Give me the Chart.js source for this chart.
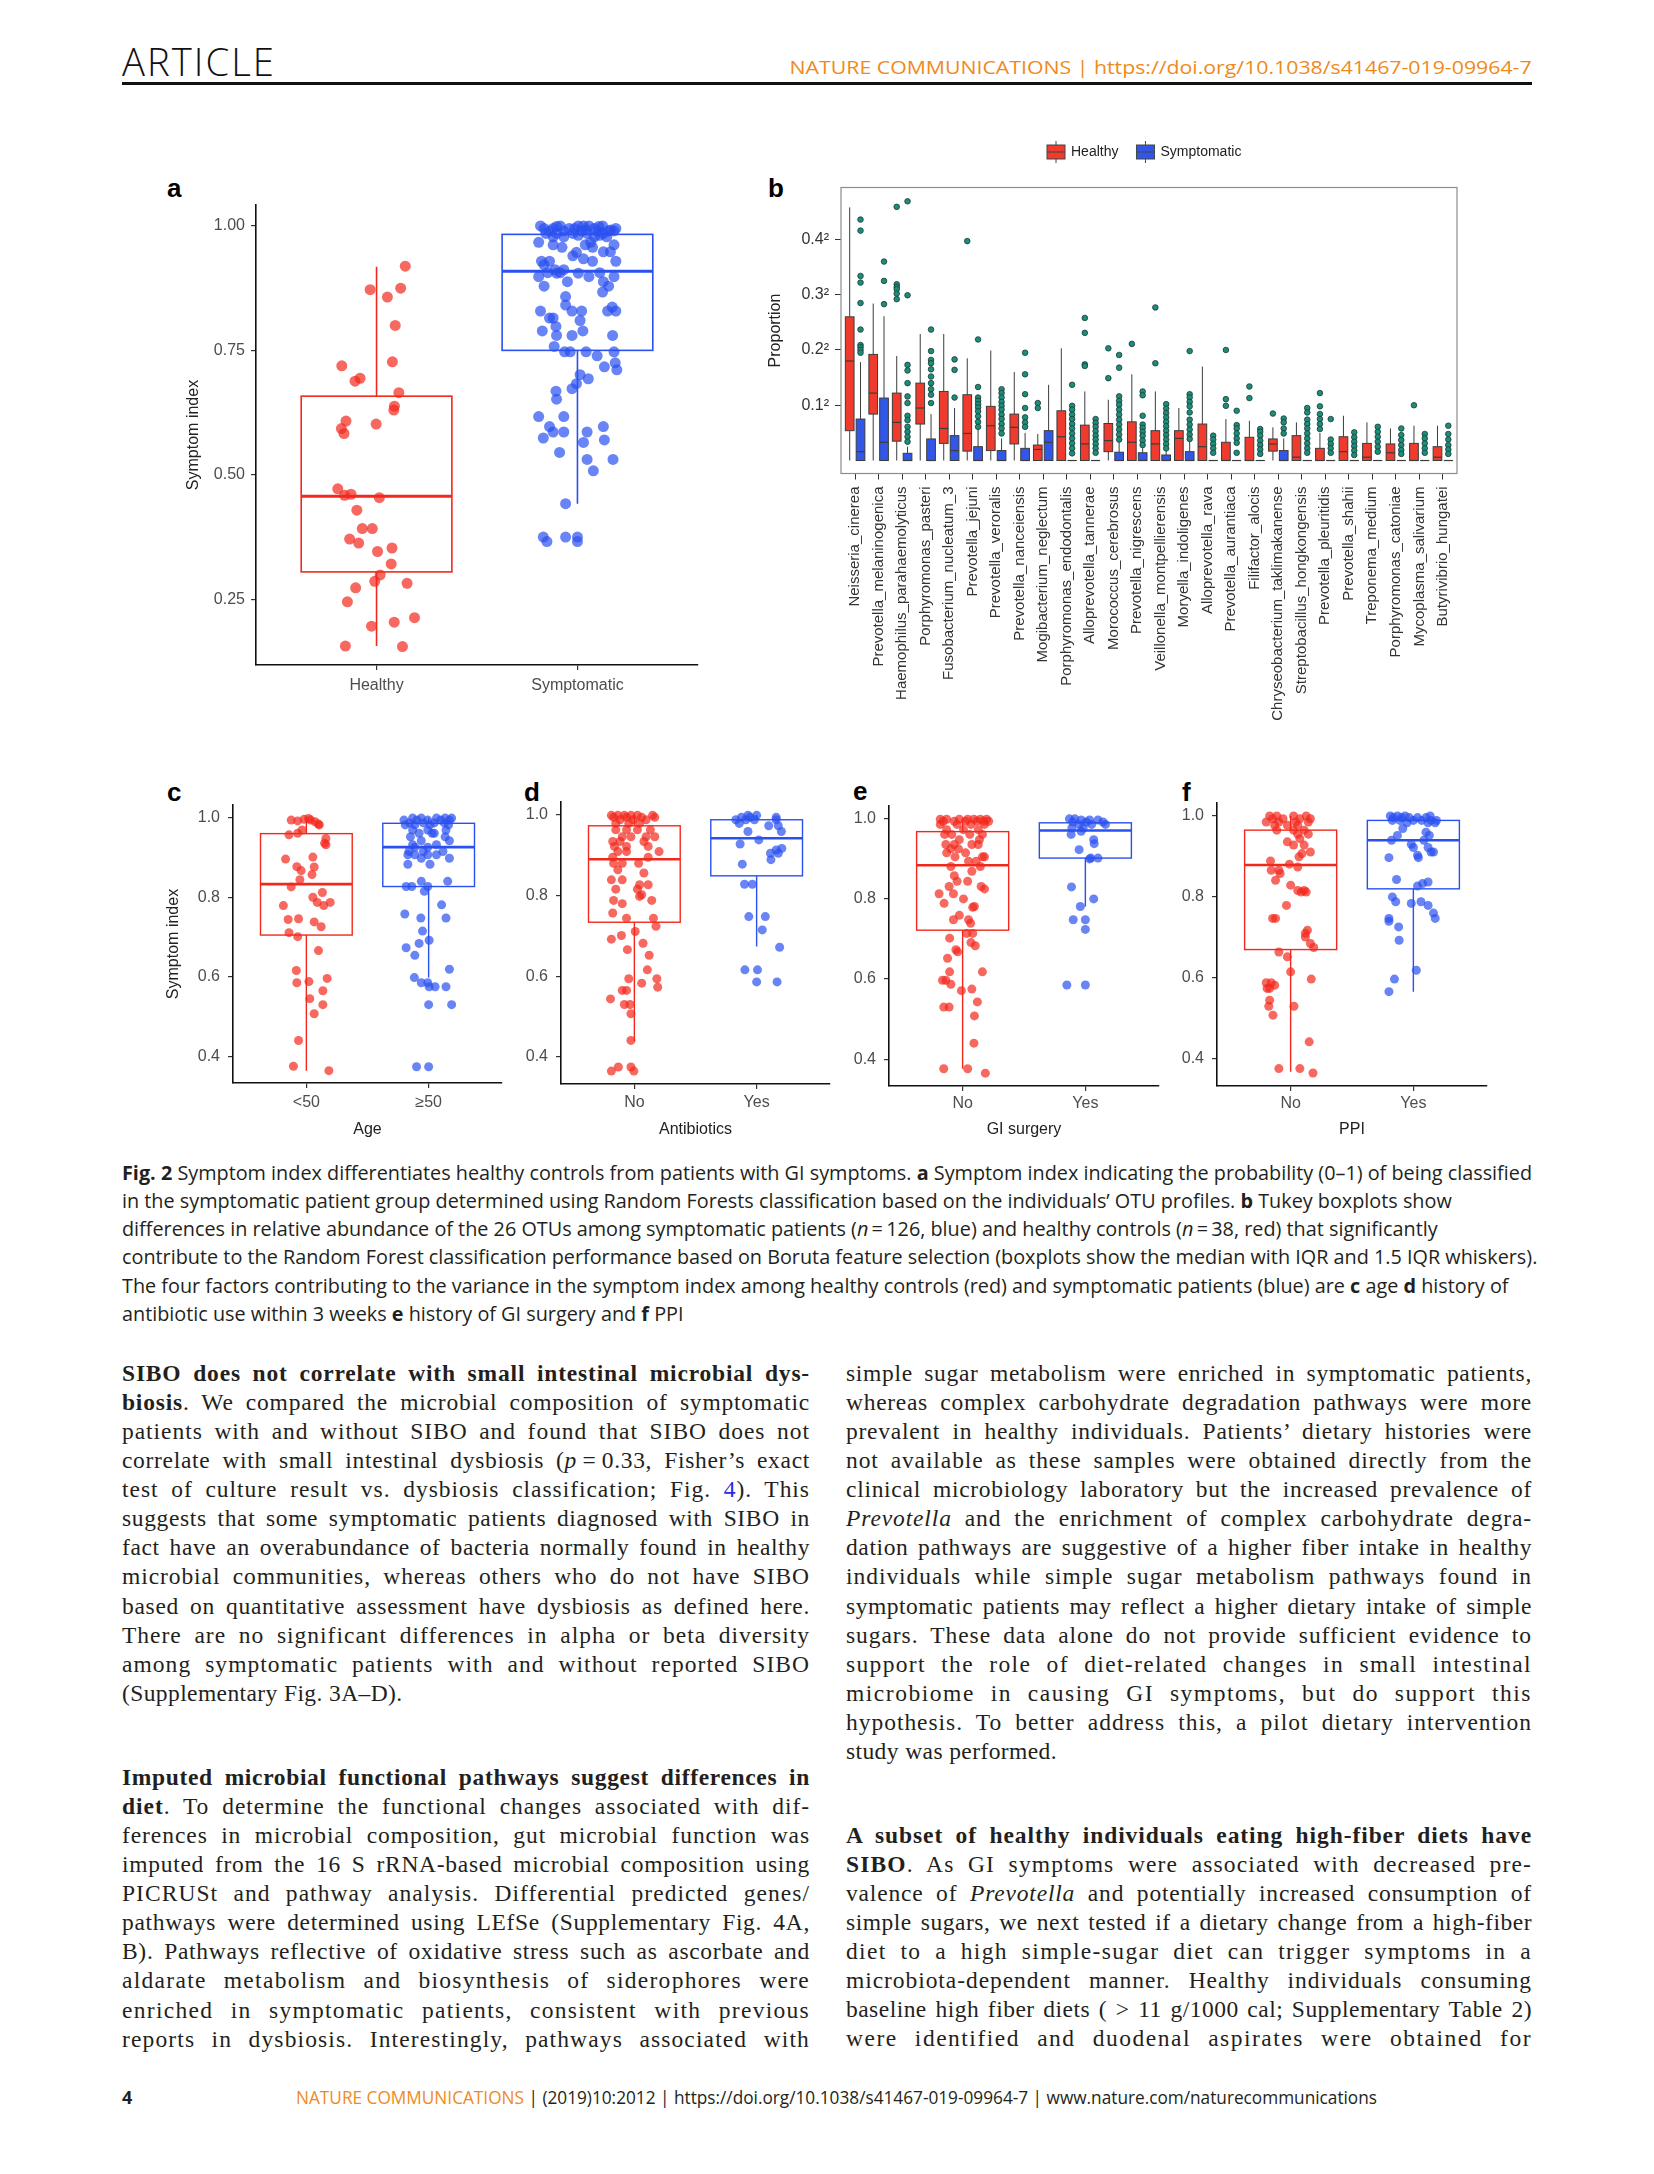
<!DOCTYPE html>
<html>
<head>
<meta charset="utf-8">
<title>Fig. 2</title>
<script src="https://cdn.jsdelivr.net/npm/chart.js@4.4.1/dist/chart.umd.min.js"></script>
<style>
  html, body { margin: 0; padding: 0; background: #fff; }
  body { position: relative; width: 1654px; height: 2174px; overflow: hidden; color: #231f20; }
  canvas { position: absolute; }
  .abs { position: absolute; white-space: nowrap; }
  .lbl { position: absolute; font: bold 26px/26px "Liberation Sans", Arial, sans-serif; color: #000; }
  #article { left: 122px; top: 42px; font: 300 38px/38px "Open Sans", sans-serif; letter-spacing: 2px; transform-origin: 0 0; color: #111; }
  #rule { position: absolute; left: 122px; top: 82px; width: 1410px; height: 2.5px; background: #111; }
  #hdr { right: 122px; top: 58px; font: 19px/19px "Open Sans", sans-serif; color: #ef8a1a; transform-origin: 100% 0; }
  #cap { position: absolute; left: 122px; top: 1158.5px; font: 19.5px/28.3px "Open Sans", sans-serif; transform-origin: 0 0; }
  #cap div { white-space: nowrap; }
  .p { position: absolute; font: 23.5px/29.07px "Liberation Serif", "Times New Roman", serif; }
  .p div { text-align: justify; text-align-last: justify; }
  .p div.end { text-align-last: left; }
  .lk { color: #2a2ae0; }
  #foot4 { left: 122px; top: 2088px; font: bold 18px/18px "Open Sans", sans-serif; }
  #foot { left: 296px; top: 2088px; font: 18px/18px "Open Sans", sans-serif; transform-origin: 0 0; }
  .or { color: #ef8a1a; }
</style>
</head>
<body>

<div id="article" class="abs">ARTICLE</div>
<div id="rule"></div>
<div id="hdr" class="abs">NATURE COMMUNICATIONS | https://doi.org/10.1038/s41467-019-09964-7</div>

<div class="lbl" style="left:167px;top:175px">a</div>
<div class="lbl" style="left:768px;top:175px">b</div>
<div class="lbl" style="left:167px;top:779px">c</div>
<div class="lbl" style="left:524px;top:779px">d</div>
<div class="lbl" style="left:853px;top:778px">e</div>
<div class="lbl" style="left:1182px;top:779px">f</div>

<canvas id="pa" width="560" height="540" style="left:150px;top:180px"></canvas>
<canvas id="pb" width="730" height="620" style="left:740px;top:130px"></canvas>
<canvas id="pc" width="360" height="380" style="left:150px;top:775px"></canvas>
<canvas id="pd" width="330" height="380" style="left:510px;top:775px"></canvas>
<canvas id="pe" width="330" height="380" style="left:840px;top:775px"></canvas>
<canvas id="pf" width="330" height="380" style="left:1170px;top:775px"></canvas>

<div id="cap">
  <div><span id="cap1"><b>Fig. 2</b> Symptom index differentiates healthy controls from patients with GI symptoms. <b>a</b> Symptom index indicating the probability (0–1) of being classified</span></div>
  <div>in the symptomatic patient group determined using Random Forests classification based on the individuals’ OTU profiles. <b>b</b> Tukey boxplots show</div>
  <div>differences in relative abundance of the 26 OTUs among symptomatic patients (<i>n</i>&thinsp;=&thinsp;126, blue) and healthy controls (<i>n</i>&thinsp;=&thinsp;38, red) that significantly</div>
  <div>contribute to the Random Forest classification performance based on Boruta feature selection (boxplots show the median with IQR and 1.5 IQR whiskers).</div>
  <div>The four factors contributing to the variance in the symptom index among healthy controls (red) and symptomatic patients (blue) are <b>c</b> age <b>d</b> history of</div>
  <div>antibiotic use within 3 weeks <b>e</b> history of GI surgery and <b>f</b> PPI</div>
</div>

<div class="p" style="left:122px;top:1359px;width:688px">
  <div><b>SIBO does not correlate with small intestinal microbial dys-</b></div>
  <div><b>biosis</b>. We compared the microbial composition of symptomatic</div>
  <div>patients with and without SIBO and found that SIBO does not</div>
  <div>correlate with small intestinal dysbiosis (<i>p</i>&thinsp;=&thinsp;0.33, Fisher’s exact</div>
  <div>test of culture result vs. dysbiosis classification; Fig. <span class="lk">4</span>). This</div>
  <div>suggests that some symptomatic patients diagnosed with SIBO in</div>
  <div>fact have an overabundance of bacteria normally found in healthy</div>
  <div>microbial communities, whereas others who do not have SIBO</div>
  <div>based on quantitative assessment have dysbiosis as defined here.</div>
  <div>There are no significant differences in alpha or beta diversity</div>
  <div>among symptomatic patients with and without reported SIBO</div>
  <div class="end">(Supplementary Fig. 3A–D).</div>
</div>

<div class="p" style="left:122px;top:1763px;width:688px">
  <div><b>Imputed microbial functional pathways suggest differences in</b></div>
  <div><b>diet</b>. To determine the functional changes associated with dif-</div>
  <div>ferences in microbial composition, gut microbial function was</div>
  <div>imputed from the 16 S rRNA-based microbial composition using</div>
  <div>PICRUSt and pathway analysis. Differential predicted genes/</div>
  <div>pathways were determined using LEfSe (Supplementary Fig. 4A,</div>
  <div>B). Pathways reflective of oxidative stress such as ascorbate and</div>
  <div>aldarate metabolism and biosynthesis of siderophores were</div>
  <div>enriched in symptomatic patients, consistent with previous</div>
  <div>reports in dysbiosis. Interestingly, pathways associated with</div>
</div>

<div class="p" style="left:846px;top:1359px;width:686px">
  <div>simple sugar metabolism were enriched in symptomatic patients,</div>
  <div>whereas complex carbohydrate degradation pathways were more</div>
  <div>prevalent in healthy individuals. Patients’ dietary histories were</div>
  <div>not available as these samples were obtained directly from the</div>
  <div>clinical microbiology laboratory but the increased prevalence of</div>
  <div><i>Prevotella</i> and the enrichment of complex carbohydrate degra-</div>
  <div>dation pathways are suggestive of a higher fiber intake in healthy</div>
  <div>individuals while simple sugar metabolism pathways found in</div>
  <div>symptomatic patients may reflect a higher dietary intake of simple</div>
  <div>sugars. These data alone do not provide sufficient evidence to</div>
  <div>support the role of diet-related changes in small intestinal</div>
  <div>microbiome in causing GI symptoms, but do support this</div>
  <div>hypothesis. To better address this, a pilot dietary intervention</div>
  <div class="end">study was performed.</div>
</div>

<div class="p" style="left:846px;top:1821px;width:686px">
  <div><b>A subset of healthy individuals eating high-fiber diets have</b></div>
  <div><b>SIBO</b>. As GI symptoms were associated with decreased pre-</div>
  <div>valence of <i>Prevotella</i> and potentially increased consumption of</div>
  <div>simple sugars, we next tested if a dietary change from a high-fiber</div>
  <div>diet to a high simple-sugar diet can trigger symptoms in a</div>
  <div>microbiota-dependent manner. Healthy individuals consuming</div>
  <div>baseline high fiber diets ( &gt; 11 g/1000 cal; Supplementary Table 2)</div>
  <div>were identified and duodenal aspirates were obtained for</div>
</div>

<div id="foot4" class="abs">4</div>
<div id="foot" class="abs"><span class="or">NATURE COMMUNICATIONS</span> | (2019)10:2012 | https://doi.org/10.1038/s41467-019-09964-7 | www.nature.com/naturecommunications</div>

<script>
Chart.defaults.font.family = '"Liberation Sans", Arial, Helvetica, sans-serif';
Chart.defaults.color = '#4d4d4d';

// ---------- a: symptom index, healthy vs symptomatic
const aGroups = ['Healthy', 'Symptomatic'];
const aTicks = [0.25, 0.5, 0.75, 1.0];
const aRange = [0.118, 1.042];
// [lower whisker, Q1, median, Q3, upper whisker]
const aHealthyBox = [0.156, 0.305, 0.457, 0.658, 0.918];
const aSymptBox = [0.442, 0.750, 0.909, 0.983, 1.0];
// [jitter, symptom index]
const aHealthyPts = [[.143,.919],[-.032,.872],[.120,.875],[.054,.857],[.093,.800],[-.173,.719],[.079,.727],[-.107,.688],[-.082,.694],[.111,.665],[.089,.638],[.086,.630],[-.152,.608],[-.002,.602],[-.175,.593],[-.162,.583],[-.193,.472],[-.159,.459],[-.127,.461],[.014,.454],[-.098,.429],[-.071,.392],[-.021,.392],[-.134,.371],[-.089,.363],[.077,.353],[.005,.346],[.073,.321],[.018,.299],[-.009,.286],[.152,.282],[-.104,.273],[-.145,.245],[.189,.213],[-.025,.196],[.088,.204],[-.155,.156],[.129,.155]];
const aSymptPts = [[-.184,1.0],[-.086,1.0],[.004,1.0],[.030,1.0],[.057,1.0],[.125,1.0],[-.104,.999],[.107,.999],
  [-.166,.995],[-.121,.995],[-.041,.995],[-.014,.995],[.084,.995],[.191,.995],[.043,.992],[.164,.992],
  [-.139,.990],[-.068,.990],[.021,.990],[.102,.990],[.155,.990],[.182,.990],[-.157,.985],[-.104,.985],[-.023,.985],[.048,.985],[.129,.985],
  [.004,.981],[.111,.981],[-.121,.978],[-.068,.978],[.084,.978],[.146,.978],[-.193,.967],[.066,.967],[-.121,.962],[.039,.962],[.182,.962],
  [-.077,.957],[.075,.957],[.129,.948],[.164,.948],[-.005,.947],[-.023,.940],[.030,.934],[-.179,.929],[-.139,.929],[.075,.929],[.191,.929],
  [-.166,.922],[-.112,.912],[-.068,.912],[-.148,.906],[-.086,.906],[.111,.906],[.004,.905],[-.104,.905],[-.193,.898],[.057,.898],[.182,.898],
  [-.050,.888],[.129,.888],[-.166,.879],[.155,.879],[.125,.867],[-.059,.858],[-.059,.841],[.173,.837],
  [-.184,.829],[-.027,.829],[.021,.829],[.150,.829],[.191,.829],[-.139,.815],[-.121,.815],[.013,.810],[-.107,.798],[-.175,.789],[.027,.789],
  [-.104,.780],[-.027,.780],[.175,.780],[-.116,.758],[-.064,.747],[-.036,.747],[.043,.747],[.182,.747],
  [.098,.739],[.188,.725],[.134,.717],[.196,.711],[.013,.701],[.054,.693],[-.005,.683],[-.027,.673],[-.107,.668],[-.104,.652],
  [-.193,.617],[-.068,.617],[-.139,.597],[.129,.597],[-.121,.586],[-.068,.586],[.048,.586],[-.170,.574],[.134,.570],[.030,.565],
  [-.089,.545],[.048,.531],[.177,.531],[.079,.508],[-.059,.442],[-.170,.375],[-.059,.375],[0,.375],[-.152,.366],[0,.366]];

// ---------- c-f: symptom index by factor
const cfTicks = [0.4, 0.6, 0.8, 1.0];
const cfRange = [0.333, 1.032];

const cGroups = ['<50', '≥50'];
const cYoungBox = [0.364, 0.705, 0.833, 0.960, 1.0];
const cOldBox = [0.598, 0.827, 0.926, 0.986, 1.0];
const cYoungPts = [[-.124,.994],[-.071,.992],[-.018,.996],[.018,.998],[.035,.994],[.071,.990],[.099,.984],[.106,.982],[-.035,.969],[-.142,.957],[-.071,.961],[.160,.948],[.149,.936],[.160,.932],[-.170,.896],[.053,.901],[-.078,.877],[-.043,.867],[.064,.876],[.046,.857],[-.053,.844],[-.124,.826],[.053,.800],[.131,.812],[.089,.787],[.142,.779],[-.188,.779],[.195,.787],[-.149,.744],[-.064,.746],[.064,.738],[.121,.726],[-.142,.711],[-.071,.701],[.099,.666],[-.082,.616],[.021,.588],[-.078,.585],[.170,.596],[.135,.565],[.028,.545],[.135,.530],[.064,.507],[-.064,.440],[-.106,.375],[.184,.364]];
const cOldPts = [[-.131,.999],[-.060,.999],[.064,.999],[.135,.999],[.188,.999],[-.202,.994],[-.096,.994],[-.007,.994],[.099,.994],[.170,.994],
  [-.156,.987],[-.043,.987],[.046,.987],[.128,.987],[-.191,.982],[-.113,.982],[.011,.982],[.163,.982],[-.131,.969],[-.007,.969],[.142,.969],
  [-.078,.961],[.028,.961],[.046,.961],[-.149,.952],[.135,.952],[-.060,.942],[.170,.942],[-.131,.932],[.064,.932],[-.007,.926],[-.113,.926],
  [-.160,.915],[-.043,.915],[.117,.915],[-.170,.907],[-.113,.907],[-.007,.907],[.064,.907],[-.060,.898],[.170,.898],[-.170,.883],[.011,.883],
  [-.060,.840],[.156,.840],[-.184,.827],[-.138,.827],[-.007,.827],[-.035,.815],[.106,.781],[-.195,.758],[-.064,.748],[.142,.748],[-.050,.715],
  [.004,.692],[-.078,.684],[-.184,.673],[-.113,.654],[.170,.619],[-.117,.598],[-.060,.585],[-.007,.585],[.004,.575],[.053,.575],[.142,.575],
  [0,.530],[.188,.530],[-.099,.374],[0,.374]];

const dGroups = ['No', 'Yes'];
const dNoBox = [0.439, 0.734, 0.890, 0.973, 1.0];
const dYesBox = [0.674, 0.849, 0.942, 0.988, 1.0];
const dNoPts = [[-.188,.999],[-.135,.999],[-.082,.999],[-.028,.999],[.025,.999],[.149,.999],[-.170,.994],[-.064,.994],[.060,.994],[.167,.994],
  [-.117,.988],[-.011,.988],[.096,.988],[-.152,.979],[-.046,.979],[.043,.979],[-.152,.963],[-.064,.963],[.025,.963],[.131,.963],
  [-.099,.946],[-.028,.946],[.096,.946],[.167,.946],[-.177,.934],[-.117,.934],[.078,.934],[-.163,.922],[-.064,.922],[.113,.922],
  [-.135,.909],[-.064,.909],[.202,.909],[-.177,.895],[.113,.895],[-.170,.880],[-.099,.880],[.035,.880],[-.135,.864],[.078,.856],
  [-.188,.839],[-.099,.839],[.043,.827],[.113,.827],[-.152,.816],[.025,.816],[.060,.802],[.043,.798],[-.170,.788],[.142,.788],
  [-.099,.780],[-.177,.757],[-.064,.744],[.156,.744],[.177,.724],[.007,.711],[-.106,.701],[-.188,.692],[.071,.682],[-.057,.666],
  [.121,.652],[.106,.616],[-.046,.594],[.184,.594],[.060,.583],[.191,.573],[-.099,.565],[-.064,.565],[-.195,.544],[-.082,.530],
  [-.035,.530],[-.028,.507],[-.028,.441],[-.131,.375],[-.028,.375],[-.188,.365],[-.004,.365]];
const dYesPts = [[-.071,.999],[0,.999],[-.124,.994],[-.053,.994],[.160,.994],[-.170,.988],[-.089,.988],[-.018,.988],[.160,.988],[-.142,.979],
  [.099,.973],[.177,.973],[-.071,.959],[.202,.959],[.018,.938],[-.135,.928],[.206,.917],[.160,.913],[.113,.905],[.177,.905],[.117,.889],
  [-.117,.878],[-.099,.828],[-.035,.828],[-.064,.748],[.071,.748],[.046,.715],[.188,.672],[-.096,.616],[.007,.616],[0,.586],[.167,.586]];

const eGroups = ['No', 'Yes'];
const eNoBox = [0.376, 0.722, 0.884, 0.968, 1.0];
const eYesBox = [0.781, 0.902, 0.971, 0.990, 1.0];
const eNoPts = [[-.182,.999],[-.130,.999],[-.027,.999],[.041,.999],[.092,.999],[.144,.999],[.195,.999],[-.158,.994],[-.068,.994],[.024,.994],
  [.116,.994],[.171,.994],[.212,.994],[-.182,.986],[-.045,.986],[.068,.986],[.178,.986],[-.130,.973],[.007,.973],[.127,.973],
  [-.147,.961],[-.089,.961],[.058,.961],[.161,.961],[-.027,.948],[.137,.948],[-.137,.936],[-.068,.936],[.075,.936],[.127,.936],
  [-.096,.925],[-.034,.925],[-.130,.915],[.024,.915],[-.062,.905],[.161,.905],[.178,.905],[.048,.894],[.110,.894],[-.096,.881],
  [.144,.881],[.075,.869],[-.068,.858],[-.045,.844],[.041,.844],[-.110,.831],[.151,.831],[.178,.825],[-.192,.813],[-.075,.813],
  [.007,.800],[-.151,.789],[.096,.781],[.082,.779],[-.027,.759],[-.075,.748],[.048,.748],[.065,.739],[.034,.714],[.082,.714],
  [-.106,.702],[.068,.691],[.103,.683],[-.055,.673],[-.041,.668],[-.123,.652],[-.106,.618],[.161,.618],[-.164,.597],[-.137,.597],
  [-.096,.587],[.075,.575],[-.010,.571],[.120,.543],[-.154,.530],[-.110,.530],[.096,.508],[.092,.440],[-.154,.376],[.041,.376],[.185,.365]];
const eYesPts = [[-.130,1.0],[-.086,1.0],[-.034,.997],[.034,.997],[.103,.997],[-.103,.992],[.007,.992],[.144,.992],[-.051,.986],[.051,.986],
  [.164,.986],[-.110,.977],[-.017,.977],[-.034,.969],[-.116,.961],[.068,.948],[.072,.938],[-.051,.923],[.045,.902],[.103,.902],
  [.034,.900],[-.113,.830],[.068,.800],[-.041,.781],[-.099,.748],[0,.748],[0,.724],[-.151,.585],[0,.585]];

const fGroups = ['No', 'Yes'];
const fNoBox = [0.368, 0.670, 0.879, 0.965, 1.0];
const fYesBox = [0.566, 0.820, 0.940, 0.989, 1.0];
const fNoPts = [[-.171,1.0],[-.113,1.0],[.024,1.0],[.127,1.0],[-.147,.993],[-.062,.993],[.075,.993],[.161,.993],[-.199,.985],[-.096,.985],
  [.041,.985],[.144,.985],[-.130,.977],[-.027,.977],[.058,.977],[-.113,.965],[.024,.965],[.110,.965],[.058,.955],[.144,.955],
  [.075,.944],[-.027,.936],[.024,.928],[.110,.928],[.161,.911],[.092,.907],[.068,.899],[-.164,.889],[-.010,.881],[.058,.874],
  [-.158,.866],[-.096,.866],[-.086,.858],[-.123,.841],[0,.829],[.058,.816],[.110,.816],[.086,.812],[.127,.812],[-.034,.779],
  [-.147,.747],[-.123,.747],[.137,.718],[.120,.710],[.120,.701],[.161,.685],[.188,.675],[-.096,.664],[-.027,.652],[0,.615],
  [.168,.597],[-.199,.588],[-.158,.588],[-.130,.582],[-.192,.574],[-.171,.574],[-.171,.545],[-.178,.530],[.027,.530],[-.144,.508],
  [.151,.442],[-.096,.376],[.075,.376],[.182,.365]];
const fYesPts = [[-.188,1.0],[-.130,1.0],[-.068,1.0],[.137,1.0],[-.164,.996],[-.096,.996],[-.034,.996],[.034,.996],[.103,.996],
  [-.171,.989],[-.110,.989],[0,.989],[.068,.989],[.144,.989],[.188,.989],[-.051,.983],[.120,.983],[.178,.983],[-.086,.969],[.103,.960],
  [-.130,.952],[.130,.952],[-.178,.940],[.086,.940],[-.017,.930],[0,.922],[.120,.922],[.144,.911],[.164,.911],[.034,.903],
  [-.199,.897],[.041,.897],[-.137,.843],[.120,.837],[.075,.833],[.034,.827],[-.171,.800],[-.144,.788],[.062,.788],[-.017,.784],
  [.120,.779],[.164,.760],[-.199,.747],[.178,.747],[-.199,.740],[-.120,.726],[-.116,.693],[.024,.619],[-.154,.597],[-.199,.566]];

// ---------- b: relative abundance of 26 OTUs (sqrt scale; values are axis positions)
const otuNames = ['Neisseria_cinerea','Prevotella_melaninogenica','Haemophilus_parahaemolyticus','Porphyromonas_pasteri',
  'Fusobacterium_nucleatum_3','Prevotella_jejuni','Prevotella_veroralis','Prevotella_nanceiensis','Mogibacterium_neglectum',
  'Porphyromonas_endodontalis','Alloprevotella_tannerae','Morococcus_cerebrosus','Prevotella_nigrescens','Veillonella_montpellierensis',
  'Moryella_indoligenes','Alloprevotella_rava','Prevotella_aurantiaca','Filifactor_alocis','Chryseobacterium_taklimakanense',
  'Streptobacillus_hongkongensis','Prevotella_pleuritidis','Prevotella_shahii','Treponema_medium','Porphyromonas_catoniae',
  'Mycoplasma_salivarium','Butyrivibrio_hungatei'];
const bTickVals = [0.1, 0.2, 0.3, 0.4];
const bTickLabels = ['0.1²', '0.2²', '0.3²', '0.4²'];
const bRange = [-0.0235, 0.494];
// [lower whisker, Q1, median, Q3, upper whisker]
const healthyStats = [[0,.054,.180,.260,.458],[0,.084,.122,.192,.284],[0,.035,.069,.122,.189],[0,.066,.095,.140,.229],
  [0,.031,.058,.125,.229],[0,.017,.049,.119,.185],[0,.018,.063,.098,.199],[0,.030,.060,.084,.160],[0,0,.020,.028,.048],
  [0,0,.043,.090,.203],[0,0,.030,.064,.125],[0,.016,.036,.067,.110],[0,0,.033,.070,.156],[0,0,.030,.054,.125],
  [0,0,.040,.054,.095],[0,0,.025,.066,.170],[0,0,0,.033,.075],[0,0,0,.042,.072],[0,.017,.030,.039,.060],
  [0,0,.006,.045,.069],[0,0,0,.022,.050],[0,0,.016,.043,.081],[0,0,.006,.031,.069],[0,0,.014,.030,.058],
  [0,0,0,.031,.063],[0,0,.006,.025,.063]];
const sympStats = [[0,0,.016,.075,.178],[0,0,.033,.113,.261],[0,0,0,.013,.025],[0,0,0,.039,.084],[0,0,.018,.045,.095],
  [0,0,0,.025,.067],[0,0,0,.018,.040],[0,0,0,.022,.050],[0,0,.033,.054,.137],[0,0,0,0,0],[0,0,0,0,0],
  [0,0,0,.015,.035],[0,0,0,.014,.030],[0,0,0,.010,.022],[0,0,0,.016,.035],[0,0,0,0,0],[0,0,0,0,0],[0,0,0,0,0],
  [0,0,0,.018,.040],[0,0,0,0,0],[0,0,0,0,0],[0,0,0,0,0],[0,0,0,0,0],[0,0,0,0,0],[0,0,0,0,0],[0,0,0,0,0]];
const healthyOut = [[],[],[.459,.319,.314,.310,.302,.292],[],[],[.397],[],[],[.104,.095],[],[.258,.231,.174,.171],[.203,.149],[.211],
  [.277,.176],[],[],[.200,.111,.099],[.134,.113],[.085],[],[.122,.098,.084,.075,.066,.057],[],[],[],[.100],[]];
const sympOut = [[.436,.416,.334,.322,.285,.237,.209,.205,.200,.195],[.360,.325,.283],
  [.469,.299,.173,.163,.140,.116,.104,.081,.073,.061,.052,.043,.034],[.237,.198,.182,.176,.165,.152,.140,.129,.119,.104],
  [.183,.164,.114],[.219,.133,.114,.108,.102,.096,.089,.080,.070,.061],[.129,.122,.114,.106,.099,.092,.083,.075,.066,.058,.049],
  [.195,.156,.120,.095,.078,.069,.061],[],[.137,.099,.092,.083,.075,.066,.058,.049,.040,.031,.022,.013],
  [.075,.068,.061,.053,.045,.038,.030,.022,.014],[.191,.168,.116,.108,.101,.092,.083,.074,.065,.056,.047,.038],
  [.125,.118,.081,.065,.059,.052,.045,.036,.028],[.102,.094,.086,.078,.070,.062,.054,.046,.038,.030,.022],
  [.198,.120,.114,.106,.098,.087,.074,.065,.056,.047,.039],[.045,.038,.030,.022,.014],[.090,.064,.058,.049,.040,.032,.014],
  [.057,.052,.045,.036,.028,.020,.012],[.076,.069,.058,.049],[.095,.087,.074,.066,.058,.049,.040,.031,.022,.014],
  [.075,.038,.030,.022,.014],[.051,.042,.034,.026,.018,.010],[.061,.052,.043,.034,.025,.016],[.058,.046,.037,.028,.019,.012],
  [.048,.040,.031,.022,.014],[.063,.048,.038,.028,.020,.012]];
const bLegend = [{ label: 'Healthy', fill: '#ee3b2e' }, { label: 'Symptomatic', fill: '#3157e8' }];

// ---------- styles
const RED = '#f2281c', BLUE = '#2a50f0';
const RED_DOT = 'rgba(242,40,28,0.7)', BLUE_DOT = 'rgba(42,80,240,0.7)';
const TICK_COL = '#4d4d4d', TITLE_COL = '#222';

function drawBox(ctx, xs, ys, pos, width, st, s) {
  const cx = xs.getPixelForValue(pos);
  const hw = (xs.getPixelForValue(pos + width / 2) - xs.getPixelForValue(pos - width / 2)) / 2;
  const [lo, q1, md, q3, hi] = st.map(v => ys.getPixelForValue(v));
  ctx.strokeStyle = s.line;
  ctx.lineWidth = s.whisker;
  ctx.beginPath();
  ctx.moveTo(cx, hi); ctx.lineTo(cx, q3);
  ctx.moveTo(cx, q1); ctx.lineTo(cx, lo);
  ctx.stroke();
  if (s.fill) {
    ctx.fillStyle = s.fill;
    ctx.fillRect(cx - hw, q3, 2 * hw, q1 - q3);
  }
  ctx.lineWidth = s.box;
  ctx.strokeRect(cx - hw, q3, 2 * hw, q1 - q3);
  ctx.lineWidth = s.median;
  ctx.beginPath();
  ctx.moveTo(cx - hw, md); ctx.lineTo(cx + hw, md);
  ctx.stroke();
}

function boxPanel(id, cats, boxes, pts, yTicks, yRange, L) {
  const lines = [RED, BLUE], dots = [RED_DOT, BLUE_DOT];
  const axisGrid = { drawOnChartArea: false, tickLength: 5, color: '#333', lineWidth: 1.2 };
  const axisBorder = { color: '#111', width: 1.6 };
  return new Chart(document.getElementById(id), {
    type: 'scatter',
    data: {
      datasets: pts.map((p, g) => ({
        data: p.map(d => ({ x: g + 1 + d[0], y: d[1] })),
        backgroundColor: dots[g],
        borderWidth: 0,
        pointRadius: L.r
      }))
    },
    options: {
      responsive: false,
      animation: false,
      events: [],
      layout: { padding: { left: 0, top: L.top, right: L.right, bottom: 0 } },
      plugins: { legend: { display: false }, tooltip: { enabled: false } },
      scales: {
        x: {
          type: 'linear', min: 0.4, max: 2.6, bounds: 'data',
          afterBuildTicks: s => { s.ticks = cats.map((c, i) => ({ value: i + 1 })); },
          afterFit: s => { s.height = L.xh; },
          ticks: { callback: (v, i) => cats[i], color: TICK_COL, font: { size: 16 }, padding: L.xpad, maxRotation: 0, autoSkip: false },
          grid: axisGrid,
          border: axisBorder,
          title: { display: !!L.xTitle, text: L.xTitle || '', color: TITLE_COL, font: { size: 16 }, padding: { top: 0, bottom: L.xtPad || 0 } }
        },
        y: {
          min: yRange[0], max: yRange[1], bounds: 'data',
          afterBuildTicks: s => { s.ticks = yTicks.map(v => ({ value: v })); },
          afterFit: s => { s.width = L.yw; },
          ticks: { callback: v => v.toFixed(L.digits), color: TICK_COL, font: { size: 16 }, padding: L.ypad },
          grid: axisGrid,
          border: axisBorder,
          title: { display: !!L.yTitle, text: L.yTitle || '', color: TITLE_COL, font: { size: 16 }, padding: { top: L.ytPad || 0, bottom: 0 } }
        }
      }
    },
    plugins: [{
      id: 'boxLayer',
      afterDatasetsDraw(chart) {
        const { ctx, scales } = chart;
        ctx.save();
        boxes.forEach((b, g) => drawBox(ctx, scales.x, scales.y, g + 1, 0.75, b,
          { line: lines[g], box: L.bw, median: L.mw, whisker: L.bw }));
        ctx.restore();
      }
    }]
  });
}

// panel a
boxPanel('pa', aGroups, [aHealthyBox, aSymptBox], [aHealthyPts, aSymptPts], aTicks, aRange,
  { top: 25, right: 12, yw: 106, xh: 55, xpad: 6, ypad: 6, digits: 2, r: 5.5, bw: 1.6, mw: 3,
    yTitle: 'Symptom index', ytPad: 34 });

// panels c-f
boxPanel('pc', cGroups, [cYoungBox, cOldBox], [cYoungPts, cOldPts], cfTicks, cfRange,
  { top: 30, right: 8, yw: 83, xh: 72, xpad: 5, ypad: 8, digits: 1, r: 4.5, bw: 1.4, mw: 2.6,
    yTitle: 'Symptom index', ytPad: 14, xTitle: 'Age', xtPad: 16 });
boxPanel('pd', dGroups, [dNoBox, dYesBox], [dNoPts, dYesPts], cfTicks, cfRange,
  { top: 27, right: 10, yw: 51, xh: 71, xpad: 4, ypad: 8, digits: 1, r: 4.5, bw: 1.4, mw: 2.6,
    xTitle: 'Antibiotics', xtPad: 16 });
boxPanel('pe', eGroups, [eNoBox, eYesBox], [eNoPts, eYesPts], cfTicks, cfRange,
  { top: 31, right: 11, yw: 49, xh: 69, xpad: 3, ypad: 8, digits: 1, r: 4.5, bw: 1.4, mw: 2.6,
    xTitle: 'GI surgery', xtPad: 16 });
boxPanel('pf', fGroups, [fNoBox, fYesBox], [fNoPts, fYesPts], cfTicks, cfRange,
  { top: 28, right: 13, yw: 47, xh: 69, xpad: 3, ypad: 8, digits: 1, r: 4.5, bw: 1.4, mw: 2.6,
    xTitle: 'PPI', xtPad: 16 });

// panel b
const DODGE = 0.23, BOXW = 0.37;
const bLayer = {
  id: 'bLayer',
  beforeDatasetsDraw(chart) {
    const { ctx, chartArea: a, scales: { x, y } } = chart;
    ctx.save();
    ctx.strokeStyle = '#8c8c8c';
    ctx.lineWidth = 1.2;
    ctx.strokeRect(a.left, a.top, a.right - a.left, a.bottom - a.top);
    healthyStats.forEach((st, i) => drawBox(ctx, x, y, i - DODGE, BOXW, st,
      { line: '#3c3c3c', fill: bLegend[0].fill, box: 1, median: 1.2, whisker: 1 }));
    sympStats.forEach((st, i) => drawBox(ctx, x, y, i + DODGE, BOXW, st,
      { line: '#3c3c3c', fill: bLegend[1].fill, box: 1, median: 1.2, whisker: 1 }));
    ctx.restore();
  },
  afterDraw(chart) {
    const { ctx, chartArea: a } = chart;
    ctx.save();
    ctx.font = '14px "Liberation Sans", Arial, sans-serif';
    ctx.textBaseline = 'middle';
    let kx = a.left + 206;
    const cy = 22;
    bLegend.forEach(item => {
      ctx.strokeStyle = '#444';
      ctx.lineWidth = 1;
      ctx.beginPath(); ctx.moveTo(kx + 9, cy - 11); ctx.lineTo(kx + 9, cy + 11); ctx.stroke();
      ctx.fillStyle = item.fill;
      ctx.fillRect(kx, cy - 7, 18, 14);
      ctx.strokeRect(kx, cy - 7, 18, 14);
      ctx.beginPath(); ctx.moveTo(kx, cy); ctx.lineTo(kx + 18, cy); ctx.stroke();
      ctx.fillStyle = '#222';
      ctx.fillText(item.label, kx + 24, cy);
      kx += 24 + ctx.measureText(item.label).width + 18;
    });
    ctx.restore();
  }
};

new Chart(document.getElementById('pb'), {
  type: 'scatter',
  data: {
    datasets: [
      { data: healthyOut.flatMap((vals, i) => vals.map(v => ({ x: i - DODGE, y: v }))) },
      { data: sympOut.flatMap((vals, i) => vals.map(v => ({ x: i + DODGE, y: v }))) }
    ]
  },
  options: {
    responsive: false,
    animation: false,
    events: [],
    elements: { point: { radius: 2.8, backgroundColor: '#1d8c78', borderColor: '#1b3b35', borderWidth: 0.8 } },
    layout: { padding: { left: 0, top: 57.5, right: 13, bottom: 0 } },
    plugins: { legend: { display: false }, tooltip: { enabled: false } },
    scales: {
      x: {
        type: 'linear', min: -0.6, max: 25.6, bounds: 'data',
        afterBuildTicks: s => { s.ticks = otuNames.map((n, i) => ({ value: i })); },
        afterFit: s => { s.height = 276.5; },
        ticks: { callback: (v, i) => otuNames[i], minRotation: 90, maxRotation: 90, autoSkip: false, color: '#333', font: { size: 15 }, padding: 7 },
        grid: { drawOnChartArea: false, tickLength: 6, color: '#333' },
        border: { display: false }
      },
      y: {
        min: bRange[0], max: bRange[1], bounds: 'data',
        afterBuildTicks: s => { s.ticks = bTickVals.map(v => ({ value: v })); },
        afterFit: s => { s.width = 101; },
        ticks: { callback: (v, i) => bTickLabels[i], color: '#333', font: { size: 16 }, padding: 6 },
        grid: { drawOnChartArea: false, tickLength: 6, color: '#333' },
        border: { display: false },
        title: { display: true, text: 'Proportion', color: TITLE_COL, font: { size: 16 }, padding: { top: 26, bottom: 0 } }
      }
    }
  },
  plugins: [bLayer]
});

// ---------- text fitting
function fitTo(el, w) {
  const r = el.getBoundingClientRect().width;
  if (r > 0) el.style.transform = 'scaleX(' + (w / r).toFixed(4) + ')';
}
fitTo(document.getElementById('article'), 154);
fitTo(document.getElementById('hdr'), 742);
fitTo(document.getElementById('foot'), 1081);
(function () {
  const w = document.getElementById('cap1').getBoundingClientRect().width;
  if (w > 0) document.getElementById('cap').style.transform = 'scaleX(' + (1410 / w).toFixed(4) + ')';
})();

// justified body lines: give part of each line's slack to letter spacing (the original face is wider)
document.querySelectorAll('.p > div').forEach(d => {
  const s = document.createElement('span');
  while (d.firstChild) s.appendChild(d.firstChild);
  d.appendChild(s);
  d.style.textAlign = 'left';
  d.style.textAlignLast = 'left';
  s.style.whiteSpace = 'nowrap';
  const nat = s.getBoundingClientRect().width;
  const n = s.textContent.trim().length;
  s.style.whiteSpace = '';
  d.style.textAlign = '';
  d.style.textAlignLast = '';
  let ls = d.classList.contains('end') ? 0.4 : Math.max(-1, (d.clientWidth - nat) * 0.55 / n);
  d.style.letterSpacing = ls.toFixed(2) + 'px';
  while (d.offsetHeight > 40 && ls > -2) {
    ls -= 0.05;
    d.style.letterSpacing = ls.toFixed(2) + 'px';
  }
});
</script>
</body>
</html>
